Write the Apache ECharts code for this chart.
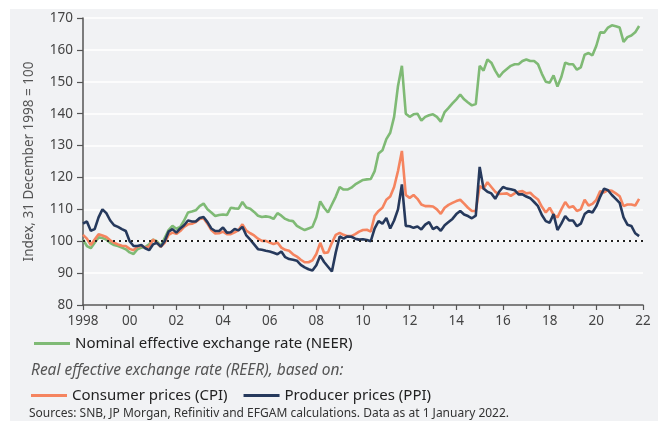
<!DOCTYPE html>
<html>
<head>
<meta charset="utf-8">
<script src="https://cdn.jsdelivr.net/npm/echarts@6/dist/echarts.min.js"></script>
<style>
  html, body { margin: 0; padding: 0; background: #fff; }
  .wrap { position: relative; width: 658px; height: 421px; }
  .panel { position: absolute; left: 10px; top: 9px; right: 0; bottom: 0; background: #f1f2f4; }
  #chart { position: absolute; left: 0; top: 0; width: 658px; height: 421px; }
</style>
</head>
<body>
<div class="wrap">
  <div class="panel"></div>
  <div id="chart"></div>
</div>
<script>
// bi-monthly observations, Jan 1998 .. Nov 2021
const years = [];
for (let i = 0; i < 144; i++) years.push(1998 + i / 6);

const neer = [
  100.5, 98.5, 97.8, 99.5, 101.2, 101.0,
  100.5, 99.5, 98.8, 98.5, 98.0, 97.5,
  96.5, 96.0, 97.5, 98.0, 98.2, 99.0,
  100.5, 100.0, 98.5, 101.0, 103.5, 104.8,
  103.9, 104.5, 106.5, 109.0, 109.3, 109.7,
  111.0, 111.8, 110.0, 109.0, 107.9, 108.2,
  108.4, 108.2, 110.5, 110.3, 110.2, 112.3,
  110.6, 110.2, 109.2, 108.0, 107.6, 107.8,
  107.6, 107.0, 108.8, 108.0, 107.0, 106.5,
  106.3, 104.8, 104.1, 103.5, 104.0, 104.5,
  107.5, 112.5, 110.5, 109.0, 111.5, 114.0,
  117.0, 116.2, 116.2, 116.8, 117.8, 118.5,
  119.2, 119.4, 119.5, 122.0, 127.5, 128.5,
  132.0, 134.0, 139.0, 148.7, 155.0, 140.0,
  139.0, 139.8, 140.0, 137.8, 139.0, 139.5,
  139.8, 139.0, 137.5, 140.5, 141.8, 143.2,
  144.5, 146.0, 144.5, 143.5, 142.6, 143.0,
  155.0, 153.5, 157.0, 156.0, 153.5, 151.5,
  153.0, 154.0, 155.0, 155.5, 155.5, 156.5,
  157.0, 156.5, 156.5, 155.5, 152.5, 150.0,
  149.7, 152.0, 148.5, 151.5, 156.0, 155.5,
  155.5, 153.8, 154.5, 158.5, 159.0, 158.3,
  161.3, 165.5, 165.4, 167.0, 167.7, 167.4,
  167.0, 162.5, 164.0, 164.5, 165.5, 167.5
];

const cpi = [
  102.0, 100.8, 98.8, 100.5, 102.2, 101.8,
  101.3, 100.3, 99.5, 99.0, 98.6, 98.5,
  97.6, 97.2, 98.3, 98.6, 98.0, 98.3,
  100.5, 99.5, 98.2, 99.5, 102.0, 102.7,
  102.3, 103.2, 104.5, 105.3, 105.5, 106.0,
  107.0, 107.2, 105.5, 103.5, 102.4, 102.5,
  103.0, 102.2, 102.2, 102.8, 103.5, 105.3,
  103.3, 102.5, 101.8, 100.8, 100.1, 100.1,
  99.6, 99.1, 99.6, 98.0, 97.3, 97.0,
  95.9, 95.2, 94.2, 93.4, 93.4, 94.0,
  96.0, 99.5, 96.3, 96.5, 99.5, 102.0,
  102.6, 102.0, 101.6, 101.6, 102.2, 103.0,
  103.5, 103.6, 103.0, 108.0, 109.5, 110.5,
  113.0, 114.0, 117.0, 122.0, 128.3, 114.5,
  113.6, 114.5, 113.3, 111.5, 111.0, 111.0,
  110.9, 110.0, 108.6, 110.5, 111.4, 112.0,
  112.6, 113.0, 111.8, 110.5, 109.5, 109.5,
  117.3, 116.5, 118.5, 117.0, 115.5, 114.8,
  114.9, 115.0, 114.2, 115.0, 115.5, 115.7,
  115.0, 115.2, 114.0, 113.1, 110.8, 109.0,
  110.5, 108.3, 107.5, 110.0, 112.3, 110.6,
  111.0, 109.5, 110.0, 113.0, 111.2, 111.7,
  113.0, 115.7, 115.3, 116.0, 115.8, 115.0,
  114.1, 111.0, 111.5, 111.5, 111.2, 113.3
];

const ppi = [
  105.5, 106.2, 103.3, 103.8, 107.5, 110.0,
  108.8, 106.5, 105.0, 104.5, 103.8, 103.2,
  100.0, 98.5, 98.5, 98.8, 97.8, 97.2,
  99.0, 99.5, 98.3, 100.0, 103.0, 103.8,
  102.7, 104.0, 105.0, 106.5, 106.2, 106.2,
  107.3, 107.6, 106.0, 104.0, 103.2, 103.2,
  104.3, 102.7, 102.8, 103.8, 103.4, 104.5,
  101.8, 100.5, 99.0, 97.5, 97.3, 97.0,
  96.8, 96.4, 95.9, 96.8, 95.0, 94.4,
  94.2, 93.9, 92.6, 91.8, 91.2, 90.8,
  92.5, 95.5, 93.5, 92.0, 90.5, 96.5,
  101.5, 100.8, 101.5, 101.4, 100.8, 100.5,
  100.6, 100.4, 100.0, 104.0, 106.3, 105.5,
  107.3, 104.0, 106.5, 110.0, 117.8, 104.8,
  104.7, 104.2, 104.6, 103.7, 105.2, 106.0,
  103.8, 104.5, 103.3, 105.0, 106.0, 107.0,
  108.5, 109.5, 108.4, 107.9, 107.2, 108.0,
  123.3, 116.5, 115.5, 115.0, 113.3, 115.5,
  117.0, 116.5, 116.3, 116.0, 114.7, 114.7,
  114.0, 113.5, 112.3, 111.0, 108.2, 106.3,
  105.8, 108.5, 103.5, 105.5, 107.9, 106.5,
  106.5, 104.7, 105.5, 108.5, 109.5, 109.0,
  111.0, 114.0, 116.5, 116.0, 114.5, 113.3,
  112.0, 107.5, 105.2, 104.8, 102.5, 101.6
];

const GREEN = '#7fba75';
const ORANGE = '#f5845f';
const NAVY = '#26395c';
const FONT = 'Noto Sans';

const myChart = echarts.init(document.getElementById('chart'));

function pairs(values) {
  return years.map((y, i) => [y, values[i]]);
}

const option = {
  animation: false,
  backgroundColor: 'transparent',
  textStyle: { fontFamily: FONT },
  grid: { left: 83, right: 15, top: 18, bottom: 116 },
  title: [
    {
      text: 'Real effective exchange rate (REER), based on:',
      left: 26, top: 358,
      textStyle: { fontFamily: FONT, fontSize: 15.5, fontWeight: 'normal', fontStyle: 'italic', color: '#555' }
    },
    {
      text: 'Sources: SNB, JP Morgan, Refinitiv and EFGAM calculations. Data as at 1 January 2022.',
      left: 24, top: 403,
      textStyle: { fontFamily: FONT, fontSize: 12, fontWeight: 'normal', color: '#333' }
    }
  ],
  legend: [
    {
      data: ['Nominal effective exchange rate (NEER)'],
      left: 29, top: 331,
      icon: 'rect', itemWidth: 36, itemHeight: 3,
      textStyle: { fontFamily: FONT, fontSize: 15, color: '#222' }
    },
    {
      data: ['Consumer prices (CPI)', 'Producer prices (PPI)'],
      left: 26, top: 383,
      icon: 'rect', itemWidth: 36, itemHeight: 3, itemGap: 16,
      textStyle: { fontFamily: FONT, fontSize: 15, color: '#222' }
    }
  ],
  xAxis: {
    type: 'value',
    min: 1998, max: 2022, interval: 2,
    axisLine: { show: true, lineStyle: { color: '#555', width: 1.5 } },
    axisTick: { show: true, length: 5, lineStyle: { color: '#555', width: 1.2 } },
    minorTick: { show: true, splitNumber: 2, length: 4, lineStyle: { color: '#555', width: 1.2 } },
    splitLine: { show: false },
    axisLabel: {
      color: '#444', fontSize: 13.5, margin: 9,
      formatter: v => v === 1998 ? '1998' : String(v % 100).padStart(2, '0')
    }
  },
  yAxis: {
    type: 'value',
    min: 80, max: 170, interval: 10,
    name: 'Index, 31 December 1998 = 100',
    nameLocation: 'middle', nameGap: 47,
    nameTextStyle: { color: '#555', fontSize: 13.5 },
    axisLine: { show: true, lineStyle: { color: '#555', width: 1.5 } },
    axisTick: { show: true, length: 6, lineStyle: { color: '#555', width: 1.2 } },
    splitLine: { show: true, lineStyle: { color: '#fff', width: 1.5 } },
    axisLabel: { color: '#444', fontSize: 13.5, margin: 10 }
  },
  series: [
    {
      name: 'Nominal effective exchange rate (NEER)',
      type: 'line', showSymbol: false, symbol: 'none',
      data: pairs(neer),
      itemStyle: { color: GREEN },
      lineStyle: { color: GREEN, width: 2.6 },
      markLine: {
        silent: true, symbol: ['none', 'none'],
        label: { show: false },
        lineStyle: { color: '#222', type: [2, 4], width: 1.8 },
        data: [{ yAxis: 100 }]
      }
    },
    {
      name: 'Consumer prices (CPI)',
      type: 'line', showSymbol: false, symbol: 'none',
      data: pairs(cpi),
      itemStyle: { color: ORANGE },
      lineStyle: { color: ORANGE, width: 2.6 }
    },
    {
      name: 'Producer prices (PPI)',
      type: 'line', showSymbol: false, symbol: 'none',
      data: pairs(ppi),
      itemStyle: { color: NAVY },
      lineStyle: { color: NAVY, width: 2.6 }
    }
  ]
};
myChart.setOption(option);
</script>
</body>
</html>
